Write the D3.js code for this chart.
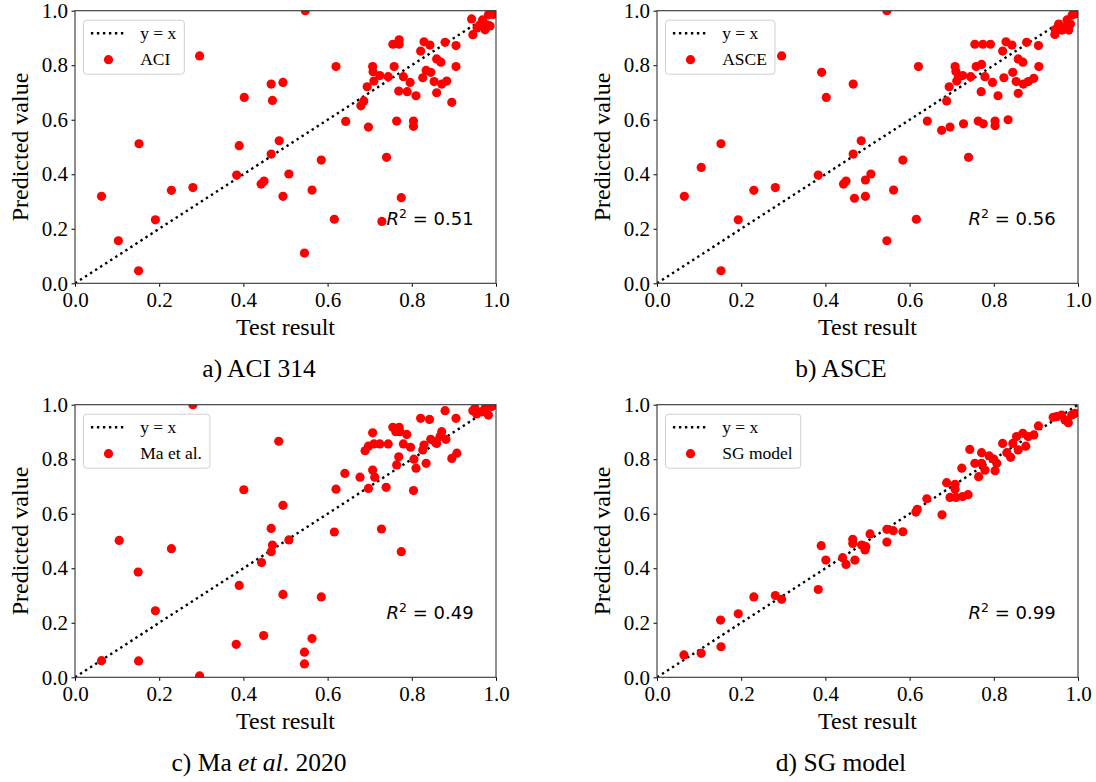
<!DOCTYPE html>
<html><head><meta charset="utf-8">
<script src="https://cdn.jsdelivr.net/npm/d3@7"></script>
<style>body{margin:0;background:#fff} svg{display:block}</style>
</head><body><svg id="chart" width="1096" height="782"></svg>
<script>
// [test result, predicted value]
const aciData = [[0.063,0.319],[0.103,0.156],[0.151,0.046],[0.152,0.512],[0.191,0.233],[0.229,0.341],[0.280,0.351],[0.296,0.834],[0.384,0.397],[0.390,0.505],[0.402,0.682],[0.442,0.364],[0.449,0.375],[0.466,0.731],[0.469,0.671],[0.466,0.474],[0.485,0.523],[0.494,0.737],[0.494,0.319],[0.508,0.401],[0.545,0.111],[0.547,1.0],[0.563,0.342],[0.585,0.452],[0.616,0.235],[0.620,0.795],[0.643,0.594],[0.679,0.651],[0.686,0.669],[0.694,0.721],[0.697,0.573],[0.707,0.795],[0.708,0.776],[0.710,0.742],[0.724,0.762],[0.729,0.227],[0.740,0.462],[0.744,0.758],[0.755,0.877],[0.758,0.795],[0.764,0.595],[0.770,0.893],[0.770,0.877],[0.769,0.705],[0.775,0.314],[0.780,0.758],[0.789,0.703],[0.796,0.737],[0.804,0.595],[0.804,0.576],[0.810,0.688],[0.821,0.852],[0.826,0.754],[0.829,0.886],[0.834,0.781],[0.843,0.874],[0.845,0.774],[0.853,0.740],[0.859,0.699],[0.859,0.823],[0.869,0.811],[0.871,0.731],[0.879,0.884],[0.883,0.742],[0.895,0.664],[0.905,0.872],[0.905,0.795],[0.942,0.970],[0.945,0.912],[0.955,0.937],[0.962,0.948],[0.968,0.966],[0.974,0.930],[0.978,0.948],[0.982,0.985],[0.986,0.944],[0.990,0.990],[0.994,0.986]];
const asceData = [[0.065,0.319],[0.105,0.425],[0.152,0.046],[0.152,0.512],[0.193,0.233],[0.230,0.341],[0.281,0.351],[0.296,0.834],[0.383,0.397],[0.391,0.774],[0.402,0.682],[0.443,0.364],[0.449,0.375],[0.466,0.731],[0.466,0.474],[0.469,0.312],[0.485,0.523],[0.495,0.379],[0.495,0.319],[0.508,0.401],[0.546,0.156],[0.546,1.0],[0.562,0.342],[0.584,0.452],[0.616,0.235],[0.621,0.795],[0.642,0.595],[0.676,0.561],[0.688,0.669],[0.694,0.721],[0.696,0.573],[0.708,0.795],[0.710,0.777],[0.712,0.742],[0.716,0.758],[0.726,0.762],[0.728,0.585],[0.740,0.462],[0.745,0.758],[0.755,0.877],[0.758,0.795],[0.763,0.595],[0.771,0.803],[0.774,0.877],[0.770,0.703],[0.775,0.585],[0.779,0.758],[0.792,0.877],[0.797,0.737],[0.803,0.595],[0.803,0.578],[0.810,0.688],[0.821,0.852],[0.824,0.754],[0.829,0.886],[0.834,0.600],[0.843,0.874],[0.845,0.774],[0.853,0.740],[0.858,0.697],[0.858,0.823],[0.869,0.811],[0.870,0.731],[0.878,0.884],[0.882,0.740],[0.895,0.752],[0.906,0.872],[0.907,0.795],[0.945,0.913],[0.946,0.931],[0.954,0.951],[0.962,0.929],[0.970,0.941],[0.974,0.966],[0.978,0.929],[0.982,0.951],[0.986,0.984],[0.994,0.988]];
const maData = [[0.063,0.061],[0.105,0.502],[0.150,0.386],[0.151,0.060],[0.191,0.244],[0.229,0.472],[0.280,1.0],[0.296,0.005],[0.383,0.121],[0.390,0.337],[0.401,0.688],[0.443,0.421],[0.448,0.153],[0.466,0.546],[0.469,0.485],[0.466,0.461],[0.484,0.866],[0.494,0.631],[0.494,0.304],[0.508,0.504],[0.545,0.092],[0.545,0.049],[0.563,0.142],[0.585,0.295],[0.616,0.533],[0.620,0.690],[0.641,0.748],[0.677,0.734],[0.689,0.831],[0.697,0.848],[0.697,0.693],[0.707,0.897],[0.707,0.760],[0.712,0.734],[0.710,0.856],[0.724,0.856],[0.728,0.544],[0.739,0.697],[0.744,0.856],[0.755,0.917],[0.762,0.901],[0.764,0.779],[0.769,0.809],[0.770,0.917],[0.772,0.901],[0.775,0.461],[0.780,0.856],[0.788,0.891],[0.797,0.844],[0.804,0.685],[0.805,0.800],[0.810,0.767],[0.821,0.950],[0.826,0.834],[0.829,0.852],[0.834,0.785],[0.842,0.946],[0.845,0.873],[0.855,0.864],[0.859,0.858],[0.867,0.883],[0.871,0.901],[0.879,0.978],[0.881,0.873],[0.895,0.803],[0.905,0.950],[0.907,0.822],[0.945,0.978],[0.950,0.987],[0.954,0.966],[0.966,0.974],[0.974,0.987],[0.982,0.962],[0.990,0.993]];
const sgData = [[0.064,0.082],[0.105,0.088],[0.151,0.210],[0.152,0.112],[0.193,0.233],[0.230,0.295],[0.281,0.300],[0.296,0.286],[0.383,0.322],[0.390,0.483],[0.401,0.430],[0.441,0.439],[0.449,0.414],[0.470,0.430],[0.465,0.506],[0.465,0.491],[0.486,0.485],[0.494,0.467],[0.496,0.479],[0.506,0.526],[0.546,0.543],[0.546,0.496],[0.561,0.538],[0.584,0.534],[0.615,0.606],[0.618,0.616],[0.641,0.655],[0.677,0.596],[0.688,0.714],[0.696,0.660],[0.708,0.690],[0.708,0.708],[0.710,0.660],[0.726,0.663],[0.739,0.670],[0.724,0.767],[0.743,0.836],[0.755,0.785],[0.764,0.736],[0.771,0.785],[0.771,0.824],[0.779,0.760],[0.789,0.812],[0.800,0.800],[0.803,0.758],[0.807,0.785],[0.821,0.858],[0.831,0.824],[0.840,0.807],[0.845,0.858],[0.854,0.883],[0.858,0.834],[0.869,0.895],[0.876,0.848],[0.882,0.883],[0.895,0.889],[0.906,0.922],[0.941,0.954],[0.949,0.956],[0.961,0.962],[0.969,0.944],[0.977,0.934],[0.985,0.962],[0.993,0.968]];

const seriesNames = ["ACI", "ASCE", "Ma et al.", "SG model"];
const r2Values = ["0.51", "0.56", "0.49", "0.99"];
const captionParts = [
  [["a) ACI 314", false]],
  [["b) ASCE", false]],
  [["c) Ma ", false], ["et al", true], [". 2020", false]],
  [["d) SG model", false]]
];
const tickValues = [0, 0.2, 0.4, 0.6, 0.8, 1.0];
const xLabel = "Test result";
const yLabel = "Predicted value";
const lineLabel = "y = x";

const datasets = [aciData, asceData, maData, sgData];
const svg = d3.select("#chart");
svg.append("rect").attr("width", 1096).attr("height", 782).attr("fill", "#fff");

const W = 421, H = 272.6;
const lefts = [75, 657, 75, 657];
const tops = [10.7, 10.7, 404.7, 404.7];
const serif = "'Liberation Serif', 'Times New Roman', serif";

datasets.forEach((data, i) => {
  const L = lefts[i], T = tops[i];
  const x = d3.scaleLinear().domain([0, 1]).range([0, W]);
  const y = d3.scaleLinear().domain([0, 1]).range([H, 0]);
  const g = svg.append("g").attr("transform", `translate(${L},${T})`);

  const clipId = "clip" + i;
  g.append("clipPath").attr("id", clipId).append("rect").attr("width", W).attr("height", H);

  const plot = g.append("g").attr("clip-path", `url(#${clipId})`);
  // y = x line
  plot.append("line")
    .attr("x1", x(0)).attr("y1", y(0)).attr("x2", x(1)).attr("y2", y(1))
    .attr("stroke", "#000").attr("stroke-width", 2.4)
    .attr("stroke-dasharray", "2.4,3.6");
  plot.selectAll("circle").data(data).join("circle")
    .attr("cx", d => x(d[0])).attr("cy", d => y(d[1])).attr("r", 4.6)
    .attr("fill", "#ff0000");

  // axes
  const fmt = d3.format(".1f");
  const xa = g.append("g").attr("transform", `translate(0,${H})`)
    .call(d3.axisBottom(x).tickValues(tickValues).tickFormat(fmt).tickSize(3.5).tickPadding(5));
  const ya = g.append("g")
    .call(d3.axisLeft(y).tickValues(tickValues).tickFormat(fmt).tickSize(3.5).tickPadding(3.5));
  [xa, ya].forEach(a => {
    a.select(".domain").remove();
    a.selectAll("line").attr("stroke", "#000").attr("stroke-width", 1);
    a.selectAll("text").attr("font-family", serif).attr("font-size", 21).attr("fill", "#000");
  });

  // frame
  g.append("rect").attr("width", W).attr("height", H)
    .attr("fill", "none").attr("stroke", "#333").attr("stroke-width", 1.1);

  // R^2 annotation
  const rt = g.append("text")
    .attr("x", x(0.74)).attr("y", y(0.214))
    .attr("font-family", "'DejaVu Sans', sans-serif").attr("font-size", 18).attr("fill", "#000");
  rt.append("tspan").attr("font-style", "italic").text("R");
  rt.append("tspan").attr("font-size", 12.5).attr("dy", -7).text("2");
  rt.append("tspan").attr("dy", 7).text(" = " + r2Values[i]);

  // legend
  const lg = g.append("g").attr("transform", "translate(8.5,9.5)");
  const box = lg.append("rect").attr("rx", 3).attr("ry", 3)
    .attr("fill", "#fff").attr("fill-opacity", 0.85)
    .attr("stroke", "#d0d0d0").attr("stroke-width", 1).attr("height", 54);
  lg.append("line").attr("x1", 7.4).attr("x2", 42.7).attr("y1", 13).attr("y2", 13)
    .attr("stroke", "#000").attr("stroke-width", 2.4).attr("stroke-dasharray", "2.4,3.6");
  lg.append("circle").attr("cx", 25).attr("cy", 39.5).attr("r", 4.6).attr("fill", "#ff0000");
  const t1 = lg.append("text").attr("x", 56.7).attr("y", 13).attr("dy", "0.32em")
    .attr("font-family", serif).attr("font-size", 17.5).text(lineLabel);
  const t2 = lg.append("text").attr("x", 56.7).attr("y", 39.5).attr("dy", "0.32em")
    .attr("font-family", serif).attr("font-size", 17.5).text(seriesNames[i]);
  const tw = Math.max(t1.node().getComputedTextLength(), t2.node().getComputedTextLength());
  box.attr("width", 56.7 + tw + 8);

  // axis labels
  g.append("text").attr("x", W / 2).attr("y", H + 52).attr("text-anchor", "middle")
    .attr("font-family", serif).attr("font-size", 24).text(xLabel);
  g.append("text").attr("transform", `translate(-47,${H / 2}) rotate(-90)`)
    .attr("text-anchor", "middle").attr("font-family", serif).attr("font-size", 24).text(yLabel);

  // caption
  const cap = g.append("text").attr("x", 184).attr("y", H + 94).attr("text-anchor", "middle")
    .attr("font-family", serif).attr("font-size", 25.5);
  captionParts[i].forEach(([s, it]) => {
    cap.append("tspan").attr("font-style", it ? "italic" : "normal").text(s);
  });
});
</script></body></html>
